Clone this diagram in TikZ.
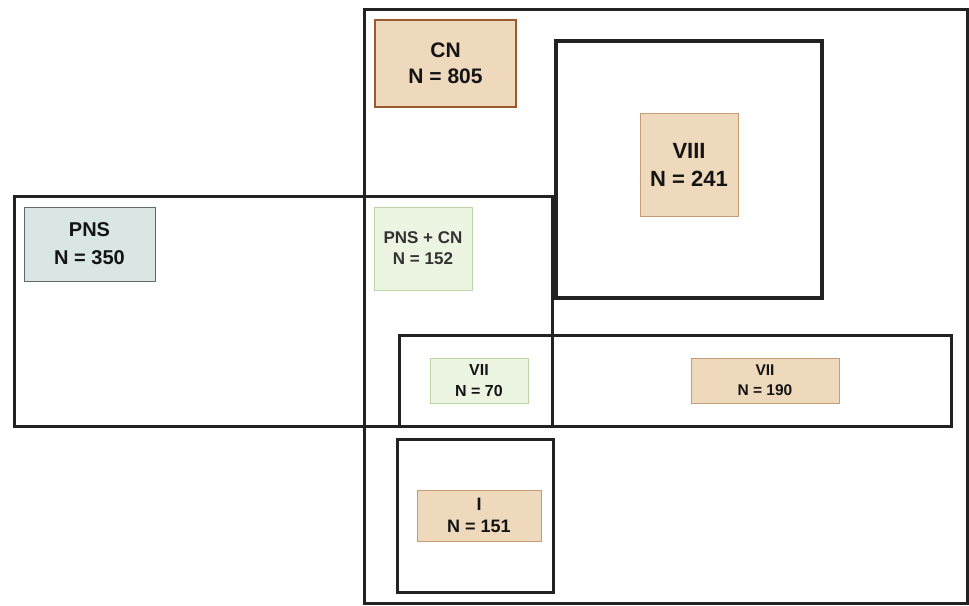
\documentclass[tikz,border=0pt]{standalone}
\usepackage{fontspec}
\setmainfont{Liberation Sans}
\definecolor{linec}{HTML}{222222}
\definecolor{tanfill}{HTML}{EFD9BC}
\definecolor{tanline}{HTML}{C49C78}
\definecolor{cnline}{HTML}{9A5A2E}
\definecolor{pnsfill}{HTML}{D9E6E4}
\definecolor{pnsline}{HTML}{5E6B6A}
\definecolor{grfill}{HTML}{EBF5E1}
\definecolor{grline}{HTML}{BCD6A6}
\definecolor{txt}{HTML}{141414}
\definecolor{txtg}{HTML}{333333}
\tikzset{
  region/.style={draw=linec, line width=3pt, inner sep=0pt, outer sep=0pt},
  lab/.style={inner sep=0pt, outer sep=0pt, align=center, text=txt},
  tanbox/.style={lab, fill=tanfill, draw=tanline, line width=1pt},
  cnbox/.style={lab, fill=tanfill, draw=cnline, line width=1.6pt},
  pnsbox/.style={lab, fill=pnsfill, draw=pnsline, line width=1pt},
  grbox/.style={lab, fill=grfill, draw=grline, line width=1pt},
}
\begin{document}
\begin{tikzpicture}[x=1pt,y=-1pt]
\useasboundingbox (0,0) rectangle (969,605);
% outer regions
\node[region, minimum width=603pt, minimum height=594pt] (cnreg) at (665.5,306) {};
\node[region, line width=4pt, minimum width=266pt, minimum height=257pt] (viiireg) at (689,169.5) {};
\node[region, minimum width=538pt, minimum height=230pt] (pnsreg) at (283,311) {};
\node[region, minimum width=552pt, minimum height=91pt] (viireg) at (675,380.5) {};
\node[region, minimum width=156pt, minimum height=153pt] (ireg) at (475,515.5) {};
% labels
\node[cnbox, minimum width=141pt, minimum height=87pt, font=\fontsize{21}{26}\selectfont\bfseries] (cn) at (445.5,63.5) {CN\\N = 805};
\node[tanbox, minimum width=98pt, minimum height=103pt, font=\fontsize{22}{28}\selectfont\bfseries] (viii) at (689,164.5) {VIII\\N = 241};
\node[pnsbox, minimum width=131pt, minimum height=74pt, font=\fontsize{20}{28}\selectfont\bfseries] (pns) at (89.5,244) {PNS\\N = 350};
\node[grbox, text=txtg, minimum width=98pt, minimum height=83pt, font=\fontsize{17}{21}\selectfont\bfseries] (pnscn) at (423,248.5) {PNS + CN\\N = 152};
\node[grbox, minimum width=98pt, minimum height=45pt, font=\fontsize{16}{21}\selectfont\bfseries] (vii70) at (479,380.5) {VII\\N = 70};
\node[tanbox, minimum width=148pt, minimum height=45pt, font=\fontsize{15.5}{20}\selectfont\bfseries] (vii190) at (765,380.5) {VII\\N = 190};
\node[tanbox, minimum width=124pt, minimum height=51pt, font=\fontsize{18}{22}\selectfont\bfseries] (i) at (479,515.5) {I\\N = 151};
\end{tikzpicture}
\end{document}
